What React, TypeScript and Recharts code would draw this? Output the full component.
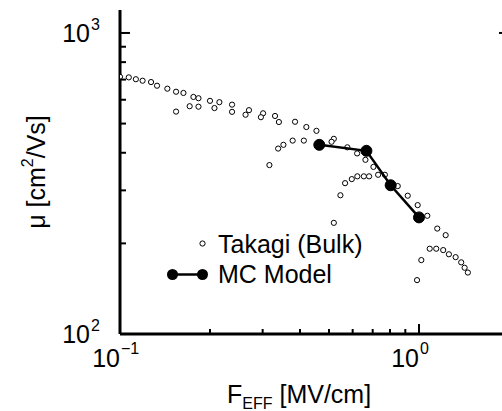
import React from 'react';
import { ComposedChart, Scatter, XAxis, YAxis, Legend } from 'recharts';

const FONT = '"Liberation Sans", Arial, Helvetica, sans-serif';

// Effective field (MV/cm) vs. mobility (cm^2/Vs)
const takagiUpper = [
  { f: 0.1, mu: 715 }, { f: 0.107, mu: 712 }, { f: 0.113, mu: 702 }, { f: 0.119, mu: 694 },
  { f: 0.127, mu: 687 }, { f: 0.133, mu: 668 }, { f: 0.144, mu: 653 }, { f: 0.154, mu: 638 },
  { f: 0.163, mu: 632 }, { f: 0.176, mu: 613 }, { f: 0.183, mu: 607 }, { f: 0.2, mu: 595 },
  { f: 0.215, mu: 589 }, { f: 0.237, mu: 578 }, { f: 0.27, mu: 554 }, { f: 0.301, mu: 541 },
  { f: 0.33, mu: 530 }, { f: 0.385, mu: 507 }, { f: 0.42, mu: 487 }, { f: 0.454, mu: 473 },
  { f: 0.519, mu: 445 }, { f: 0.576, mu: 417 }, { f: 0.621, mu: 398 }, { f: 0.662, mu: 379 },
  { f: 0.704, mu: 359 }, { f: 0.769, mu: 338 }, { f: 0.849, mu: 310 }, { f: 0.917, mu: 288 },
  { f: 0.99, mu: 268 }, { f: 1.066, mu: 247 }, { f: 1.151, mu: 224 }, { f: 1.228, mu: 213 },
];
const takagiSecond = [
  { f: 0.154, mu: 548 }, { f: 0.171, mu: 571 }, { f: 0.183, mu: 569 }, { f: 0.207, mu: 563 },
  { f: 0.237, mu: 547 }, { f: 0.263, mu: 535 }, { f: 0.296, mu: 525 }, { f: 0.34, mu: 506 },
];
const takagiThird = [
  { f: 0.316, mu: 364 }, { f: 0.338, mu: 413 }, { f: 0.352, mu: 425 }, { f: 0.378, mu: 439 },
  { f: 0.412, mu: 439 }, { f: 0.51, mu: 435 },
];
const takagiFourth = [
  { f: 0.519, mu: 234 }, { f: 0.546, mu: 289 }, { f: 0.566, mu: 317 }, { f: 0.596, mu: 327 },
  { f: 0.622, mu: 334 }, { f: 0.654, mu: 334 }, { f: 0.681, mu: 334 }, { f: 0.73, mu: 338 },
];
const takagiFifth = [
  { f: 0.985, mu: 151 }, { f: 1.018, mu: 176 }, { f: 1.086, mu: 192 }, { f: 1.142, mu: 192 },
  { f: 1.205, mu: 190 }, { f: 1.259, mu: 184 }, { f: 1.326, mu: 180 }, { f: 1.384, mu: 173 },
  { f: 1.421, mu: 166 }, { f: 1.457, mu: 160 },
];
const mcModel = [
  { f: 0.464, mu: 425 }, { f: 0.667, mu: 406 }, { f: 0.804, mu: 312 }, { f: 1.0, mu: 244 },
];

const takagiAll = [...takagiUpper, ...takagiSecond, ...takagiThird, ...takagiFourth, ...takagiFifth];

const xTicks = [0.1, 0.2, 0.3, 0.4, 0.5, 0.6, 0.7, 0.8, 0.9, 1, 2];
const yTicks = [100, 200, 300, 400, 500, 600, 700, 800, 900, 1000];
const xDomain = [0.1, 2];
const yDomain = [100, 1192];
const xExponents: Record<number, string> = { 0.1: '\u22121', 1: '0' };
const yExponents: Record<number, string> = { 100: '2', 1000: '3' };

const TAKAGI = 'Takagi (Bulk)';
const MC = 'MC Model';

const BottomTick = (props: any) => {
  const { x, y, payload } = props;
  const exp = xExponents[payload.value];
  const major = exp !== undefined;
  return (
    <g>
      <line x1={x} x2={x} y1={y} y2={y - (major ? 10 : 5)} stroke="#000" strokeWidth={2} />
      {major && (
        <text fontFamily={FONT} fill="#000">
          <tspan x={x} y={y + 33} fontSize={25} textAnchor="end">10</tspan>
        </text>
      )}
      {major && (
        <text x={x + 1} y={y + 20} fontFamily={FONT} fontSize={16} fill="#000">{exp}</text>
      )}
    </g>
  );
};

const TopTick = (props: any) => {
  const { x, y, payload } = props;
  const major = xExponents[payload.value] !== undefined;
  return <line x1={x} x2={x} y1={y} y2={y + (major ? 10 : 5)} stroke="#000" strokeWidth={2} />;
};

const LeftTick = (props: any) => {
  const { x, y, payload } = props;
  const exp = yExponents[payload.value];
  const major = exp !== undefined;
  return (
    <g>
      <line x1={x} x2={x + (major ? 10 : 6)} y1={y} y2={y} stroke="#000" strokeWidth={2} />
      {major && (
        <text x={x - 30} y={y + 9} fontFamily={FONT} fontSize={25} textAnchor="end" fill="#000">10</text>
      )}
      {major && (
        <text x={x - 29} y={y - 3} fontFamily={FONT} fontSize={16} fill="#000">{exp}</text>
      )}
    </g>
  );
};

const RightTick = (props: any) => {
  const { x, y, payload } = props;
  const major = yExponents[payload.value] !== undefined;
  return <line x1={x} x2={x - (major ? 10 : 6)} y1={y} y2={y} stroke="#000" strokeWidth={2} />;
};

const XTitle = () => (
  <text x={227} y={403} fontFamily={FONT} fontSize={25} fill="#000">
    F
    <tspan fontSize={16} dy={6}>EFF</tspan>
    <tspan dy={-6}> [MV/cm]</tspan>
  </text>
);

const YTitle = () => (
  <text
    x={36}
    y={172}
    transform="rotate(-90, 36, 172)"
    textAnchor="middle"
    dominantBaseline="central"
    fontFamily={FONT}
    fontSize={25}
    fill="#000"
  >
    {'\u03bc [cm'}
    <tspan fontSize={16} dy={-9}>2</tspan>
    <tspan dy={9}>/Vs]</tspan>
  </text>
);

const OpenDot = (props: any) => (
  <circle cx={props.cx} cy={props.cy} r={2.6} fill="#fff" stroke="#000" strokeWidth={1} />
);

const FilledDot = (props: any) => (
  <circle cx={props.cx} cy={props.cy} r={5.5} fill="#000" stroke="#000" strokeWidth={1} />
);

const LegendBox = (props: any) => {
  const { payload = [] } = props;
  return (
    <svg width={502} height={411} style={{ position: 'absolute', left: 0, top: 0 }}>
      {payload.map((entry: any) => {
        if (entry.value === TAKAGI) {
          return (
            <g key={entry.value}>
              <circle cx={202.5} cy={243.5} r={2.6} fill="#fff" stroke="#000" strokeWidth={1} />
              <text x={218} y={252.5} fontFamily={FONT} fontSize={25} fill="#000">{entry.value}</text>
            </g>
          );
        }
        return (
          <g key={entry.value}>
            <line x1={172.5} x2={202.5} y1={274.5} y2={274.5} stroke="#000" strokeWidth={2.5} />
            <circle cx={172.5} cy={274.5} r={5.5} fill="#000" />
            <circle cx={202.5} cy={274.5} r={5.5} fill="#000" />
            <text x={218} y={283} fontFamily={FONT} fontSize={25} fill="#000">{entry.value}</text>
          </g>
        );
      })}
    </svg>
  );
};

const axisLine = { stroke: '#000', strokeWidth: 3 };

export default function App() {
  return (
    <div
      style={{
        position: 'absolute',
        left: 0,
        top: 0,
        width: 502,
        height: 411,
        overflow: 'hidden',
        background: '#fff',
      }}
    >
      <ComposedChart width={520} height={411} margin={{ top: 10, right: 0, bottom: 0, left: 0 }}>
        <XAxis
          xAxisId="bottom"
          dataKey="f"
          type="number"
          scale="log"
          domain={xDomain}
          allowDataOverflow
          ticks={xTicks}
          interval={0}
          tickSize={0}
          tickMargin={0}
          height={77}
          axisLine={axisLine}
          tickLine={false}
          tick={<BottomTick />}
          label={<XTitle />}
        />
        <XAxis
          xAxisId="top"
          orientation="top"
          type="number"
          scale="log"
          domain={xDomain}
          allowDataOverflow
          ticks={xTicks}
          interval={0}
          tickSize={0}
          tickMargin={0}
          height={0}
          axisLine={axisLine}
          tickLine={false}
          tick={<TopTick />}
        />
        <YAxis
          yAxisId="left"
          dataKey="mu"
          type="number"
          scale="log"
          domain={yDomain}
          allowDataOverflow
          ticks={yTicks}
          interval={0}
          tickSize={0}
          tickMargin={0}
          width={120}
          axisLine={axisLine}
          tickLine={false}
          tick={<LeftTick />}
          label={<YTitle />}
        />
        <YAxis
          yAxisId="right"
          orientation="right"
          type="number"
          scale="log"
          domain={yDomain}
          allowDataOverflow
          ticks={yTicks}
          interval={0}
          tickSize={0}
          tickMargin={0}
          width={11}
          axisLine={axisLine}
          tickLine={false}
          tick={<RightTick />}
        />
        <Scatter
          name={TAKAGI}
          data={takagiAll}
          xAxisId="bottom"
          yAxisId="left"
          shape={<OpenDot />}
          isAnimationActive={false}
        />
        <Scatter
          name={MC}
          data={mcModel}
          xAxisId="bottom"
          yAxisId="left"
          shape={<FilledDot />}
          line={{ stroke: '#000', strokeWidth: 2.5 }}
          lineType="joint"
          isAnimationActive={false}
        />
        <Legend
          layout="vertical"
          align="center"
          verticalAlign="middle"
          content={<LegendBox />}
          wrapperStyle={{ left: 0, top: 0, width: 502, height: 411, pointerEvents: 'none' }}
        />
      </ComposedChart>
    </div>
  );
}
